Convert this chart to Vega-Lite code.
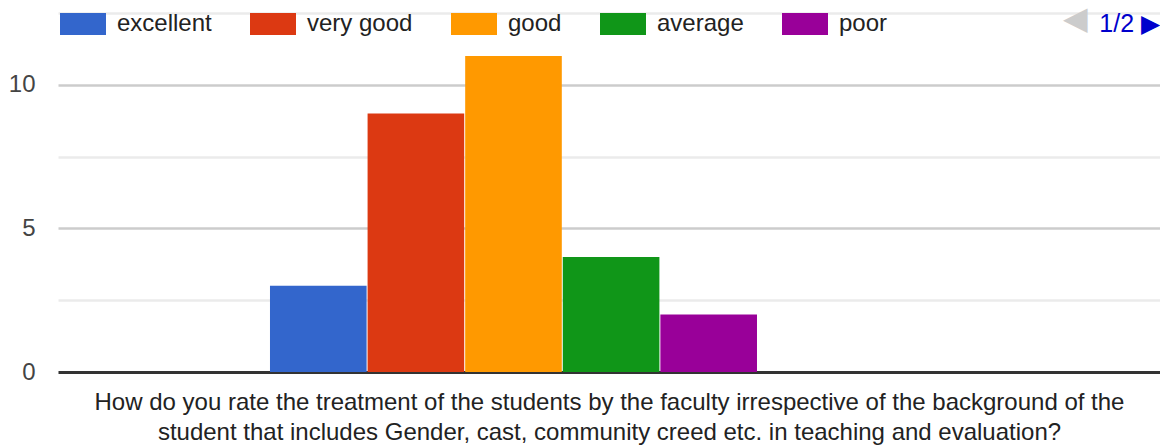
{
  "$schema": "https://vega.github.io/schema/vega-lite/v6.json",
  "width": 1102,
  "height": 359,
  "autosize": {"type": "none"},
  "padding": {"left": 58, "top": 13, "right": 0, "bottom": 75},
  "background": "white",
  "config": {"font": "Liberation Sans", "view": {"stroke": null}},
  "title": {"text": "1/2 ▶", "anchor": "end", "color": "#0000cc", "fontSize": 25, "fontWeight": "normal", "baseline": "middle", "offset": 0, "dy": 48},
  "data": {"values": [
    {"question": "Q", "rating": "excellent", "count": 3},
    {"question": "Q", "rating": "very good", "count": 9},
    {"question": "Q", "rating": "good", "count": 11},
    {"question": "Q", "rating": "average", "count": 4},
    {"question": "Q", "rating": "poor", "count": 2}
  ]},
  "mark": {"type": "bar"},
  "encoding": {
    "x": {"field": "question", "type": "nominal",
      "scale": {"paddingInner": 0, "paddingOuter": 0.6314, "align": 0.3447},
      "axis": {"labels": false, "ticks": false, "domainColor": "#333333", "domainWidth": 3,
        "title": ["How do you rate the treatment of the students by the faculty irrespective of the background of the", "student that includes Gender, cast, community creed etc. in teaching and evaluation?"],
        "titleFontSize": 24, "titleFontWeight": "normal", "titleColor": "#222222", "titlePadding": 18, "titleLineHeight": 30}},
    "xOffset": {"field": "rating", "sort": ["excellent", "very good", "good", "average", "poor"], "scale": {"paddingInner": 0.01, "paddingOuter": 0}},
    "y": {"field": "count", "type": "quantitative",
      "scale": {"domain": [0, 12.5], "nice": false},
      "axis": {"title": null, "values": [0, 2.5, 5, 7.5, 10, 12.5],
        "labelExpr": "datum.value % 5 === 0 ? format(datum.value, 'd') : ''",
        "domain": false, "ticks": false, "labelFontSize": 24, "labelColor": "#444444", "labelPadding": 23,
        "gridWidth": 2.5,
        "gridColor": {"condition": {"test": "datum.value % 5 === 0", "value": "#cccccc"}, "value": "#ebebeb"},
        "gridOpacity": {"condition": {"test": "datum.value === 0", "value": 0}, "value": 1}}},
    "color": {"field": "rating", "type": "nominal", "sort": ["excellent", "very good", "good", "average", "poor"],
      "scale": {"domain": ["excellent", "very good", "good", "average", "poor"], "range": ["#3366cc", "#dc3912", "#ff9900", "#109618", "#990099"]},
      "legend": {"orient": "none", "legendX": 2, "legendY": -12, "direction": "horizontal",
        "title": "◀", "titleOrient": "right", "titleColor": "#cccccc", "titleFontSize": 32, "titleFontWeight": "normal", "titlePadding": 176, "titleBaseline": "middle",
        "labelFontSize": 24, "labelColor": "#222222", "labelOffset": 11, "columnPadding": 38,
        "symbolType": "M-1,-0.478H1V0.478H-1Z", "symbolSize": 2116, "symbolStrokeWidth": 0, "symbolOpacity": 1, "padding": 0}}
  }
}
